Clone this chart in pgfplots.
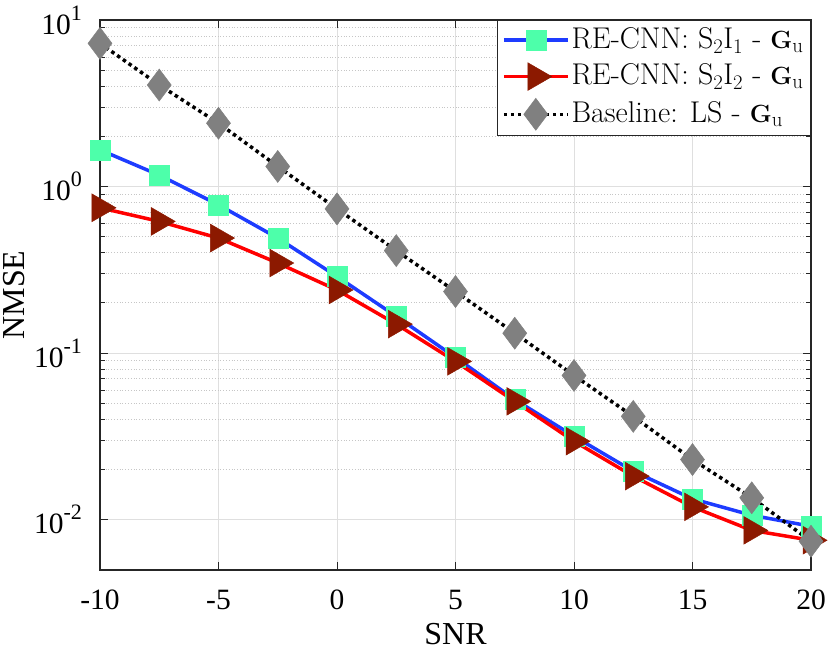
\documentclass[border=0pt]{standalone}
\usepackage[no-math]{fontspec}
\setmainfont{Liberation Serif}
\newfontfamily\lmfont{Latin Modern Roman}
\usepackage{pgfplots}
\pgfplotsset{compat=1.18}
\definecolor{sqfill}{RGB}{77,255,170}
\definecolor{trifill}{RGB}{140,25,0}
\definecolor{blueline}{RGB}{30,60,255}
\definecolor{axgray}{RGB}{38,38,38}
\newcommand\tp[1]{10\raisebox{14pt}{\fontsize{22}{22}\selectfont #1}}
\begin{document}
\fontsize{29.5}{34}\selectfont
\begin{tikzpicture}
\begin{axis}[
  at={(0,0)}, anchor=south west,
  scale only axis, width=711pt, height=550pt,
  ymode=log, xmin=-10, xmax=20, ymin=0.00497, ymax=10,
  xtick={-10,-5,0,5,10,15,20},
  xticklabels={-10,-5,0,5,10,15,20},
  ytick={0.01,0.1,1,10},
  yticklabels={\tp{-2},\tp{-1},\tp{0},\tp{1}},
  tick label style={font=\fontsize{29.5}{34}\selectfont},
  label style={font=\fontsize{32}{38}\selectfont},
  xlabel={SNR}, ylabel={NMSE},
  xlabel style={at={(axis description cs:0.5,0)}, anchor=base, yshift=-74pt},
  ylabel style={at={(axis description cs:-0.1055,0.5)}, anchor=base, rotate=0},
  xticklabel style={yshift=-10pt},
  yticklabel style={xshift=-8pt},
  grid=both,
  major grid style={gray!25, line width=0.8pt},
  minor y grid style={gray!45, line width=0.8pt, dotted},
  minor x grid style={draw=none},
  minor x tick num=0,
  tick align=inside,
  major tick length=8pt, minor tick length=5pt,
  every tick/.style={axgray, line width=0.8pt},
  axis line style={axgray, line width=1.3pt},
  legend cell align=left,
  legend style={at={(1,1)}, anchor=north east, draw=axgray, line width=1pt,
    font=\lmfont\fontsize{30}{34}\selectfont, row sep=7pt, inner sep=5pt},
  legend image code/.code={\draw[mark repeat=2,mark phase=2] plot coordinates {(0pt,0pt)(32pt,0pt)(64pt,0pt)};},
]
\addplot[blueline, line width=3.5pt, mark=square*, mark size=10pt,
  mark options={solid, fill=sqfill, draw=sqfill, line width=0.5pt}]
  coordinates {(-10,1.66)(-7.5,1.17)(-5,0.776)(-2.5,0.49)(0,0.288)(2.5,0.166)(5,0.094)(7.5,0.0525)(10,0.0316)(12.5,0.0195)(15,0.0133)(17.5,0.0106)(20,0.0091)};
\addlegendentry{RE-CNN: S$_2$I$_1$ - $\mathbf{G}_{\mathrm{u}}$}
\addplot[red, line width=3.5pt, mark=triangle*, mark size=16pt,
  mark options={solid, rotate=-90, fill=trifill, draw=trifill, line width=0.5pt}]
  coordinates {(-10,0.745)(-7.5,0.617)(-5,0.49)(-2.5,0.347)(0,0.239)(2.5,0.149)(5,0.089)(7.5,0.0512)(10,0.0295)(12.5,0.0182)(15,0.0119)(17.5,0.0086)(20,0.0075)};
\addlegendentry{RE-CNN: S$_2$I$_2$ - $\mathbf{G}_{\mathrm{u}}$}
\addplot[black, line width=3.5pt, dash pattern=on 3.5pt off 3.5pt, mark=diamond*, mark size=16pt,
  mark options={solid, fill=gray, draw=gray, line width=0.5pt}]
  coordinates {(-10,7.24)(-7.5,4.07)(-5,2.40)(-2.5,1.32)(0,0.734)(2.5,0.412)(5,0.234)(7.5,0.1315)(10,0.0733)(12.5,0.0416)(15,0.0229)(17.5,0.0135)(20,0.0074)};
\addlegendentry{Baseline: LS - $\mathbf{G}_{\mathrm{u}}$}
\end{axis}
\pgfresetboundingbox
\path[use as bounding box] (-100pt,-81pt) rectangle (730pt,570pt);
\end{tikzpicture}
\end{document}
